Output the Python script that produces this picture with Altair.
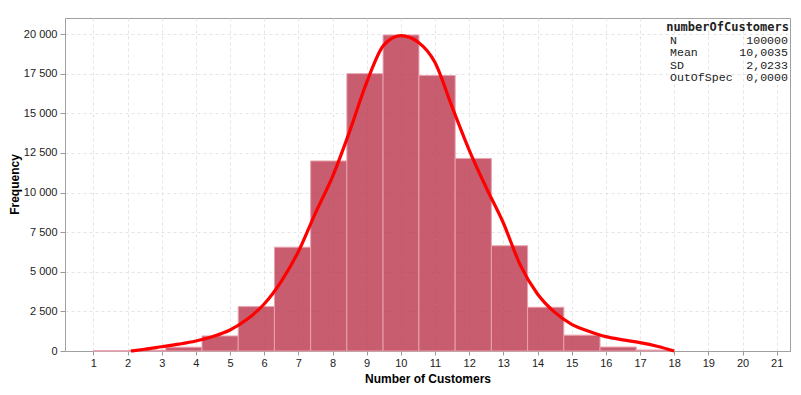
import altair as alt
import pandas as pd

# Histogram bins (lower edge, upper edge, count)
bin_lo = [1.00, 2.06, 3.12, 4.18, 5.24, 6.30, 7.36, 8.42, 9.48, 10.53, 11.59, 12.65, 13.71, 14.77, 15.83, 16.89]
bin_hi = [2.06, 3.12, 4.18, 5.24, 6.30, 7.36, 8.42, 9.48, 10.53, 11.59, 12.65, 13.71, 14.77, 15.83, 16.89, 17.95]
counts = [10, 50, 240, 950, 2800, 6550, 11990, 17500, 19940, 17380, 12150, 6640, 2760, 1000, 250, 60]

# Density curve
curve_x = [2.1, 2.5, 3, 3.5, 4, 4.5, 5, 5.5, 6, 6.5, 7, 7.5, 8, 8.5, 9, 9.5, 10,
           10.5, 11, 11.5, 12, 12.5, 13, 13.5, 14, 14.5, 15, 15.5, 16, 16.5, 17, 17.5, 18]
curve_y = [0, 110, 270, 430, 630, 920, 1325, 2000, 2965, 4400, 6265, 8700, 11000, 13850, 16950, 19300, 19900,
           19500, 18200, 15400, 12680, 10300, 8075, 5400, 3600, 2450, 1685, 1250, 905, 700, 525, 300, 0]

x_ticks = list(range(1, 22))
y_ticks = [0, 2500, 5000, 7500, 10000, 12500, 15000, 17500, 20000]

stat_title = "numberOfCustomers"
stat_labels = ["N", "Mean", "SD", "OutOfSpec"]
stat_values = ["100000", "10,0035", "2,0233", "0,0000"]

bars_df = pd.DataFrame({"lo": bin_lo, "hi": bin_hi, "count": counts})
curve_df = pd.DataFrame({"x": curve_x, "y": curve_y})

xscale = alt.Scale(domain=[0.17, 21.39], nice=False, zero=False)
yscale = alt.Scale(domain=[0, 21010], nice=False, zero=True)

grid_color = "#e4e4e4"
font = "Liberation Sans"

x_axis = alt.Axis(
    values=x_ticks, title="Number of Customers", grid=True, gridDash=[3, 3], gridColor=grid_color,
    labelFont=font, labelFontSize=11, labelColor="#222222", tickSize=4, tickColor="#999999",
    domainColor="#a0a0a0", labelPadding=2, titleFont=font, titleFontSize=12, titleFontWeight="bold",
    titleColor="#000000", titleY=27, titleBaseline="middle", labelFlush=False, labelOverlap=False,
    labelBound=False)
y_axis = alt.Axis(
    values=y_ticks, title="Frequency", grid=True, gridDash=[3, 3], gridColor=grid_color,
    labelFont=font, labelFontSize=11, labelColor="#222222", tickSize=5, tickColor="#999999",
    domainColor="#a0a0a0", labelPadding=3, titleFont=font, titleFontSize=12, titleFontWeight="bold",
    titleColor="#000000", titleX=-51, titleY=166, titleBaseline="middle", titleAngle=-90,
    labelFlush=False, labelOverlap=False,
    labelExpr="replace(format(datum.value, ','), ',', ' ')")

bars = alt.Chart(bars_df).mark_rect(
    fill="#b9344b", fillOpacity=0.8, stroke="#e9a3b0", strokeWidth=1
).encode(
    x=alt.X("lo:Q", scale=xscale, axis=x_axis),
    x2="hi:Q",
    y=alt.Y("count:Q", scale=yscale, axis=y_axis),
    y2=alt.datum(0),
)

line = alt.Chart(curve_df).mark_line(
    color="#ff0000", strokeWidth=3.2, interpolate="monotone"
).encode(
    x=alt.X("x:Q", scale=xscale, axis=x_axis),
    y=alt.Y("y:Q", scale=yscale, axis=y_axis),
)

layers = [bars, line]

layers.append(alt.Chart(pd.DataFrame({"t": [stat_title]})).mark_text(
    font="DejaVu Sans Mono", fontSize=12, fontWeight="bold", align="right", baseline="middle", color="#222222"
).encode(text="t:N", x=alt.value(724), y=alt.value(9)))

for i, (lab, val) in enumerate(zip(stat_labels, stat_values)):
    ypix = 23 + i * 12.3
    layers.append(alt.Chart(pd.DataFrame({"t": [lab]})).mark_text(
        font="Liberation Mono", fontSize=11.6, align="left", baseline="middle", color="#222222"
    ).encode(text="t:N", x=alt.value(605), y=alt.value(ypix)))
    layers.append(alt.Chart(pd.DataFrame({"t": [val]})).mark_text(
        font="Liberation Mono", fontSize=11.6, align="right", baseline="middle", color="#222222"
    ).encode(text="t:N", x=alt.value(723), y=alt.value(ypix)))

chart = alt.layer(*layers).properties(
    width=725, height=333,
    autosize=alt.AutoSizeParams(type="none"),
    padding={"left": 57, "top": 10, "right": 3, "bottom": 36},
    background="#ffffff",
).configure_view(
    stroke="#a0a0a0", strokeWidth=1
).configure_axisX(labelOverlap=False)

chart.save("out.html", embed_options={"renderer": "svg", "actions": False})
